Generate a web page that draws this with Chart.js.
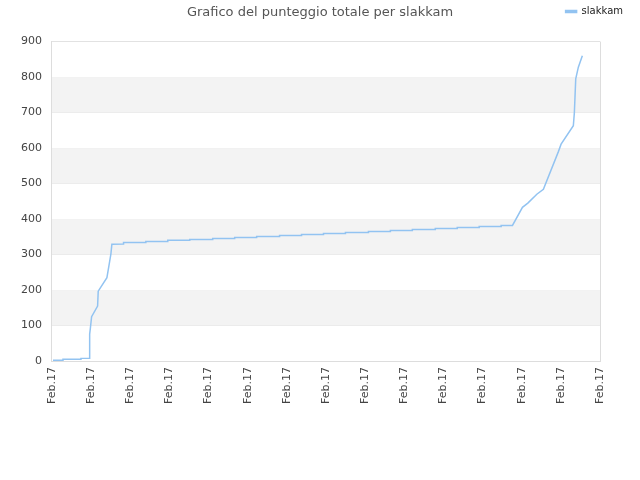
<!DOCTYPE html>
<html>
<head>
<meta charset="utf-8">
<script src="https://cdn.jsdelivr.net/npm/chart.js@4/dist/chart.umd.min.js"></script>
<style>
html,body{margin:0;padding:0;background:#fff;}
#wrap{width:640px;height:480px;}
</style>
</head>
<body>
<div id="wrap"><canvas id="c" width="640" height="480"></canvas></div>
<script>
const chartTitle = 'Grafico del punteggio totale per slakkam';
const seriesName = 'slakkam';
const tickLabels = ['Feb.17','Feb.17','Feb.17','Feb.17','Feb.17','Feb.17','Feb.17','Feb.17','Feb.17','Feb.17','Feb.17','Feb.17','Feb.17','Feb.17','Feb.17'];
const yTicks = [0,100,200,300,400,500,600,700,800,900];
const times = [0.026,0.281,0.281,0.740,0.740,0.951,0.956,0.969,0.982,1.012,1.165,1.181,1.403,1.454,1.505,1.530,1.828,1.828,
  2.397,2.397,2.958,2.958,3.519,3.519,4.106,4.106,4.667,4.667,5.228,5.228,5.814,5.814,6.375,6.375,6.936,6.936,
  7.497,7.497,8.084,8.084,8.645,8.645,9.206,9.206,9.792,9.792,10.353,10.353,10.914,10.914,11.475,11.475,
  11.764,12.019,12.156,12.386,12.554,12.937,13.006,13.319,13.345,13.380,13.447,13.549];
const scores = [2,2,5,5,7.5,8,48,76,94,125,155,197,235,268,302,329,330,334,
  334,337,337,340,340,342.5,342.5,345,345,348,348,351,351,353.5,353.5,356.5,356.5,359,
  359,362,362,365,365,367.5,367.5,370.5,370.5,373.5,373.5,376,376,379,379,382,
  382,433,445,470,484,590,611,663,700,795,828,860];

const lineColor = '#92c3f1';
const font = 'DejaVu Sans';

const bands = {
  id: 'bands',
  beforeDatasetsDraw(chart) {
    const {ctx, chartArea, scales} = chart;
    const y = scales.y;
    ctx.save();
    ctx.fillStyle = '#f3f3f3';
    for (let i = 0; i < yTicks.length - 1; i++) {
      if (i % 2 === 1) {
        const top = y.getPixelForValue(yTicks[i+1]);
        const bot = y.getPixelForValue(yTicks[i]);
        ctx.fillRect(chartArea.left, top, chartArea.right - chartArea.left, bot - top);
      }
    }
    ctx.restore();
  }
};

new Chart(document.getElementById('c'), {
  type: 'line',
  data: {
    datasets: [{
      label: seriesName,
      data: times.map((t, i) => ({x: t, y: scores[i]})),
      borderColor: lineColor,
      backgroundColor: lineColor,
      borderWidth: 1.5,
      pointRadius: 0,
      tension: 0,
      fill: false
    }]
  },
  options: {
    responsive: false,
    animation: false,
    layout: {padding: {left: 11, right: 11, top: 0, bottom: 70}},
    plugins: {
      title: {
        display: true,
        text: chartTitle,
        color: '#555',
        font: {family: font, size: 13, weight: 'normal'},
        padding: {top: 5, bottom: -20}
      },
      legend: {
        display: true,
        position: 'top',
        align: 'end',
        labels: {
          color: '#222',
          font: {family: font, size: 10},
          boxWidth: 11,
          boxHeight: 2,
          padding: 6
        }
      },
      tooltip: {enabled: false}
    },
    scales: {
      x: {
        type: 'linear',
        min: 0,
        max: 14,
        ticks: {
          stepSize: 1,
          autoSkip: false,
          maxRotation: 90,
          minRotation: 90,
          padding: 6,
          color: '#444',
          font: {family: font, size: 11},
          callback: (v, i) => tickLabels[i]
        },
        grid: {
          drawTicks: false,
          color: (c) => (c.index === 0 || c.index === tickLabels.length - 1) ? '#dddddd' : 'rgba(0,0,0,0)'
        },
        border: {display: true, color: '#dddddd'}
      },
      xTop: {
        type: 'linear',
        position: 'top',
        display: true,
        ticks: {display: false},
        grid: {display: false, drawTicks: false},
        border: {display: false},
        afterFit: (s) => { s.height = 15; }
      },
      y: {
        min: 0,
        max: 900,
        ticks: {
          stepSize: 100,
          padding: 10,
          color: '#444',
          font: {family: font, size: 11}
        },
        grid: {drawTicks: false, color: '#e2e2e2'},
        border: {display: true, color: '#dddddd'}
      },
      yRight: {
        position: 'right',
        display: true,
        ticks: {display: false},
        grid: {display: false, drawTicks: false},
        border: {display: false},
        afterFit: (s) => { s.width = 29; }
      }
    }
  },
  plugins: [bands]
});
</script>
</body>
</html>
